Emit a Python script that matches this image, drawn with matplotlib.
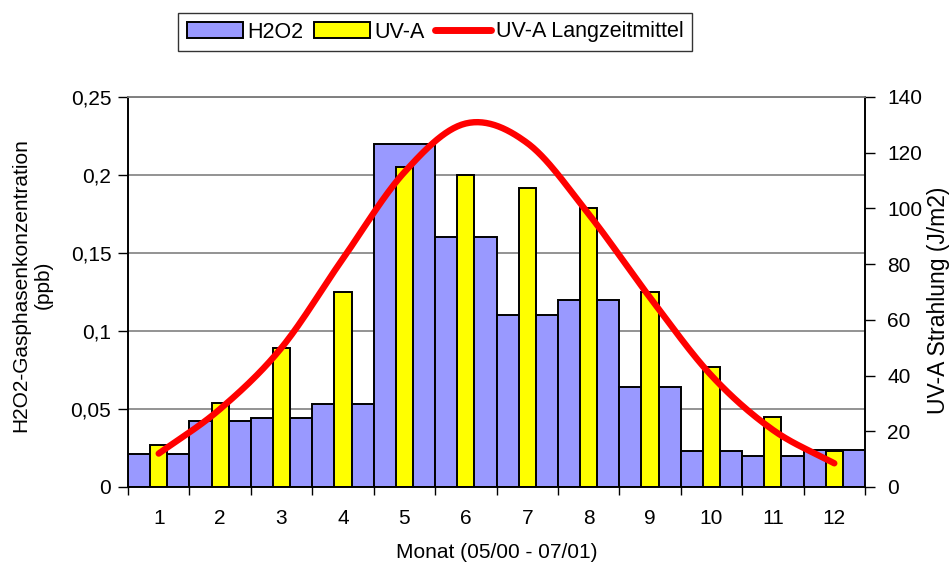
import numpy as np
import matplotlib.pyplot as plt
from matplotlib.patches import Patch
from matplotlib.lines import Line2D

plt.rcParams['font.family'] = ['Liberation Sans', 'DejaVu Sans']
plt.rcParams['font.size'] = 15

months = ['1', '2', '3', '4', '5', '6', '7', '8', '9', '10', '11', '12']
h2o2 = [0.021, 0.042, 0.044, 0.053, 0.22, 0.16, 0.11, 0.12, 0.064, 0.023, 0.020, 0.024]
uva = [15, 30, 50, 70, 115, 112, 107.5, 100, 70, 43, 25, 13]
uva_mean = [12, 28, 50, 82, 113, 130.5, 123.5, 98, 68, 40, 20.5, 8.5]


def catmull_rom(x, y, n=30):
    # smoothed line through the points, like a spreadsheet "smoothed line"
    x = np.asarray(x, float)
    y = np.asarray(y, float)
    px = np.concatenate([[2 * x[0] - x[1]], x, [2 * x[-1] - x[-2]]])
    py = np.concatenate([[2 * y[0] - y[1]], y, [2 * y[-1] - y[-2]]])
    xs, ys = [], []
    t = np.linspace(0, 1, n, endpoint=False)
    for i in range(1, len(px) - 2):
        for p, out in ((px, xs), (py, ys)):
            p0, p1, p2, p3 = p[i - 1], p[i], p[i + 1], p[i + 2]
            out.extend(0.5 * (2 * p1 + (-p0 + p2) * t
                              + (2 * p0 - 5 * p1 + 4 * p2 - p3) * t ** 2
                              + (-p0 + 3 * p1 - 3 * p2 + p3) * t ** 3))
    xs.append(x[-1])
    ys.append(y[-1])
    return np.array(xs), np.array(ys)


fig = plt.figure(figsize=(9.5, 5.64), dpi=100)
ax = fig.add_axes([128 / 950, 1 - 487 / 564, (865 - 128) / 950, (487 - 97) / 564])
ax2 = ax.twinx()

x = np.arange(len(months))
ax.bar(x, h2o2, width=1.0, color='#9999ff', edgecolor='black', linewidth=1.4, zorder=2)
ax2.bar(x, uva, width=0.28, color='#ffff00', edgecolor='black', linewidth=1.4, zorder=2)
sx, sy = catmull_rom(x, uva_mean)
ax2.plot(sx, sy, color='#ff0000', linewidth=4.6, solid_capstyle='round', zorder=3)

ax.set_xlim(-0.5, len(months) - 0.5)
ax.set_ylim(0, 0.25)
ax.set_yticks(np.arange(0, 0.26, 0.05))
ax.set_yticklabels(['0', '0,05', '0,1', '0,15', '0,2', '0,25'])
ax.yaxis.grid(True, color='#808080', linewidth=1.2, zorder=0)
ax.set_axisbelow(True)
ax2.set_ylim(0, 140)
ax2.set_yticks(np.arange(0, 141, 20))

ax.set_xticks(x)
ax.set_xticklabels(months)
ax.set_xticks(np.arange(-0.5, len(months), 1), minor=True)
ax.tick_params(axis='x', which='major', length=0, pad=16)
ax.tick_params(axis='x', which='minor', length=6, width=1)
ax.tick_params(axis='y', length=7, width=1, pad=5)
ax2.tick_params(axis='y', length=7, width=1, pad=9)

for a in (ax, ax2):
    a.spines['top'].set_color('#808080')
    a.spines['top'].set_linewidth(1.2)
    for s in ('left', 'right', 'bottom'):
        a.spines[s].set_linewidth(1.2)

ax.set_xlabel('Monat (05/00 - 07/01)', labelpad=11)
fig.text(32 / 950, 1 - 285 / 564, 'H2O2-Gasphasenkonzentration\n(ppb)',
         rotation=90, ha='center', va='center', multialignment='center',
         linespacing=1.2, fontsize=15)
fig.text(939 / 950, 1 - 300 / 564, 'UV-A Strahlung (J/m2)',
         rotation=90, ha='center', va='center', fontsize=16.5)

handles = [Patch(facecolor='#9999ff', edgecolor='black', linewidth=1.4),
           Patch(facecolor='#ffff00', edgecolor='black', linewidth=1.4),
           Line2D([], [], color='#ff0000', linewidth=5, solid_capstyle='round')]
leg = fig.legend(handles, ['H2O2', 'UV-A', 'UV-A Langzeitmittel'], ncol=3,
                 loc='center', bbox_to_anchor=(435 / 950, 1 - 32 / 564),
                 frameon=True, fancybox=False, edgecolor='black',
                 handlelength=2.6, handleheight=0.7, handletextpad=0.2,
                 columnspacing=0.5, borderpad=0.4, borderaxespad=0,
                 fontsize=15.5)
leg.get_frame().set_linewidth(1.0)

fig.savefig('out.png', dpi=100)
